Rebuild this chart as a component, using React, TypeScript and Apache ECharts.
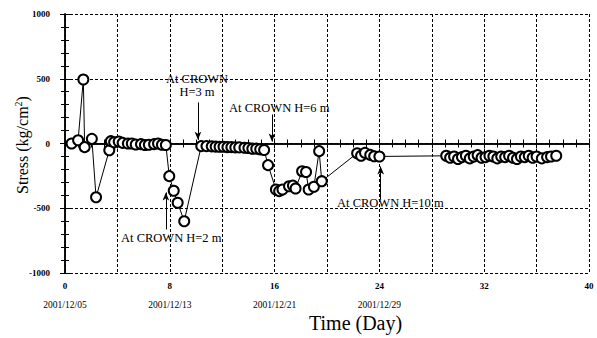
import React, { useEffect, useRef } from 'react';
import * as echarts from 'echarts';

const days = [
  0.5, 1.0, 1.4, 1.5, 2.05, 2.37, 3.38, 3.5, 3.75, 4.1, 4.4, 4.8, 5.1, 5.4, 5.8, 6.1, 6.4, 6.8, 7.1, 7.4, 7.7,
  7.96, 8.3, 8.6, 9.1,
  10.4, 10.8, 11.2, 11.5, 11.8, 12.1, 12.4, 12.7, 13.0, 13.3, 13.7, 14.0, 14.3, 14.6, 14.9, 15.2,
  15.5, 16.1, 16.35, 16.6, 17.1, 17.4, 17.6, 18.1, 18.4, 18.6, 19.0, 19.4, 19.6,
  22.3, 22.6, 22.9, 23.3, 23.6, 24.0,
  29.1, 29.4, 29.7, 30.0, 30.3, 30.6, 30.9, 31.2, 31.5, 31.8, 32.1, 32.4, 32.7, 33.0, 33.3, 33.6, 33.9, 34.2,
  34.5, 34.8, 35.1, 35.4, 35.7, 36.0, 36.4, 36.8, 37.1, 37.5,
];
const stress = [
  0, 25, 494, -28, 36, -415, -52, 18, 10, 15, 5, 0, 0, -8, -5, -12, -10, -5, 0, -10, -12,
  -252, -365, -458, -600,
  -20, -20, -22, -24, -25, -25, -28, -28, -30, -30, -33, -35, -40, -40, -45, -50,
  -167, -355, -368, -355, -330, -325, -347, -214, -220, -355, -334, -59, -291,
  -75, -95, -72, -88, -98, -100,
  -95, -110, -100, -120, -105, -95, -115, -100, -90, -110, -105, -95, -100, -115, -100, -105, -95, -110,
  -120, -100, -105, -95, -110, -100, -115, -105, -100, -95,
];
const labelledDays = [0, 8, 16, 24, 32, 40];
const dateLabels: Record<number, string> = {
  0: '2001/12/05',
  8: '2001/12/13',
  16: '2001/12/21',
  24: '2001/12/29',
};
// arrows: [day, fromStress, toStress]
const arrows: [number, number, number][] = [
  [10.15, 317, 28],
  [15.8, 224, 15],
  [7.7, -664, -378],
  [24.1, -432, -178],
];

const serif = "'Liberation Serif', 'DejaVu Serif', serif";

export default function App() {
  const ref = useRef<HTMLDivElement>(null);
  useEffect(() => {
    if (!ref.current) return;
    const chart = echarts.init(ref.current, undefined, { renderer: 'svg' });
    const axisLine = { show: true, lineStyle: { color: '#000', width: 1.5 } };
    const split = { show: true, lineStyle: { color: '#000', width: 1, type: [3, 2] as any } };
    const tick = { show: true, inside: true, length: 5, lineStyle: { color: '#000' } };
    chart.setOption({
      animation: false,
      backgroundColor: '#fff',
      grid: { left: 65, right: 8, top: 14, bottom: 65, containLabel: false },
      xAxis: [
        {
          type: 'value', min: 0, max: 40, interval: 4,
          axisLine,
          axisTick: tick,
          minorTick: { show: true, splitNumber: 4, length: 4, lineStyle: { color: '#000' } },
          splitLine: split,
          axisLabel: {
            margin: 7,
            color: '#000',
            fontFamily: serif,
            formatter: (v: number) => {
              if (!labelledDays.includes(v)) return '';
              const d = dateLabels[v];
              return d ? `{n|${v}}\n{d|${d}}` : `{n|${v}}`;
            },
            rich: {
              n: { fontSize: 9, fontWeight: 'bold', fontFamily: serif, lineHeight: 12, color: '#000' },
              d: { fontSize: 9.5, fontFamily: serif, lineHeight: 26, color: '#000' },
            },
          },
        },
        {
          type: 'value', min: 0, max: 40, interval: 4, position: 'top',
          axisLine,
          axisTick: tick,
          minorTick: { show: true, splitNumber: 4, length: 4, lineStyle: { color: '#000' } },
          splitLine: { show: false },
          axisLabel: { show: false },
        },
      ],
      yAxis: [
        {
          type: 'value', min: -1000, max: 1000, interval: 500,
          axisLine,
          axisTick: tick,
          minorTick: { show: true, splitNumber: 5, length: 4, lineStyle: { color: '#000' } },
          splitLine: split,
          axisLabel: {
            margin: 15, color: '#000', fontSize: 9, fontWeight: 'bold', fontFamily: serif,
            formatter: (v: number) => String(v),
          },
        },
        {
          type: 'value', min: -1000, max: 1000, interval: 500, position: 'right',
          axisLine,
          axisTick: tick,
          minorTick: { show: true, splitNumber: 5, length: 4, lineStyle: { color: '#000' } },
          splitLine: { show: false },
          axisLabel: { show: false },
        },
      ],
      series: [
        {
          type: 'line',
          data: days.map((d, i) => [d, stress[i]]),
          symbol: 'emptyCircle',
          symbolSize: 10,
          lineStyle: { color: '#000', width: 1 },
          itemStyle: { color: '#000', borderColor: '#000', borderWidth: 1 },
          z: 3,
          markLine: {
            silent: true,
            symbol: ['none', 'arrow'],
            symbolSize: [5, 8],
            label: { show: false },
            lineStyle: { color: '#000', width: 1, type: 'solid' },
            data: arrows.map(([d, a, b]) => [{ coord: [d, a] }, { coord: [d, b] }]),
          },
        },
      ],
      graphic: [
        {
          type: 'text', x: 22, y: 145, rotation: Math.PI / 2,
          style: {
            text: '{m|Stress (kg/cm}{s|2}{m|)}',
            align: 'center', verticalAlign: 'middle',
            rich: {
              m: { fontSize: 16, fontFamily: serif, fill: '#000' },
              s: { fontSize: 10, fontFamily: serif, fill: '#000', verticalAlign: 'top', padding: [0, 0, 8, 0] },
            },
          } as any,
        },
        {
          type: 'text', x: 197, y: 72,
          style: { text: 'At CROWN\nH=3 m', font: `12.5px ${serif}`, fill: '#000', align: 'center', lineHeight: 13 },
        },
        { type: 'text', left: 229, top: 101, style: { text: 'At CROWN H=6 m', font: `12.5px ${serif}`, fill: '#000' } },
        { type: 'text', left: 121, top: 231, style: { text: 'At CROWN H=2 m', font: `12.5px ${serif}`, fill: '#000' } },
        { type: 'text', left: 337, top: 196, style: { text: 'At CROWN H=10 m', font: `12.5px ${serif}`, fill: '#000' } },
        { type: 'text', left: 309, top: 313, style: { text: 'Time (Day)', font: `20px ${serif}`, fill: '#000' } },
      ],
    });
    return () => chart.dispose();
  }, []);
  return (
    <div
      ref={ref}
      style={{ position: 'fixed', left: 0, top: 0, width: 597, height: 338, background: '#fff' }}
    />
  );
}
